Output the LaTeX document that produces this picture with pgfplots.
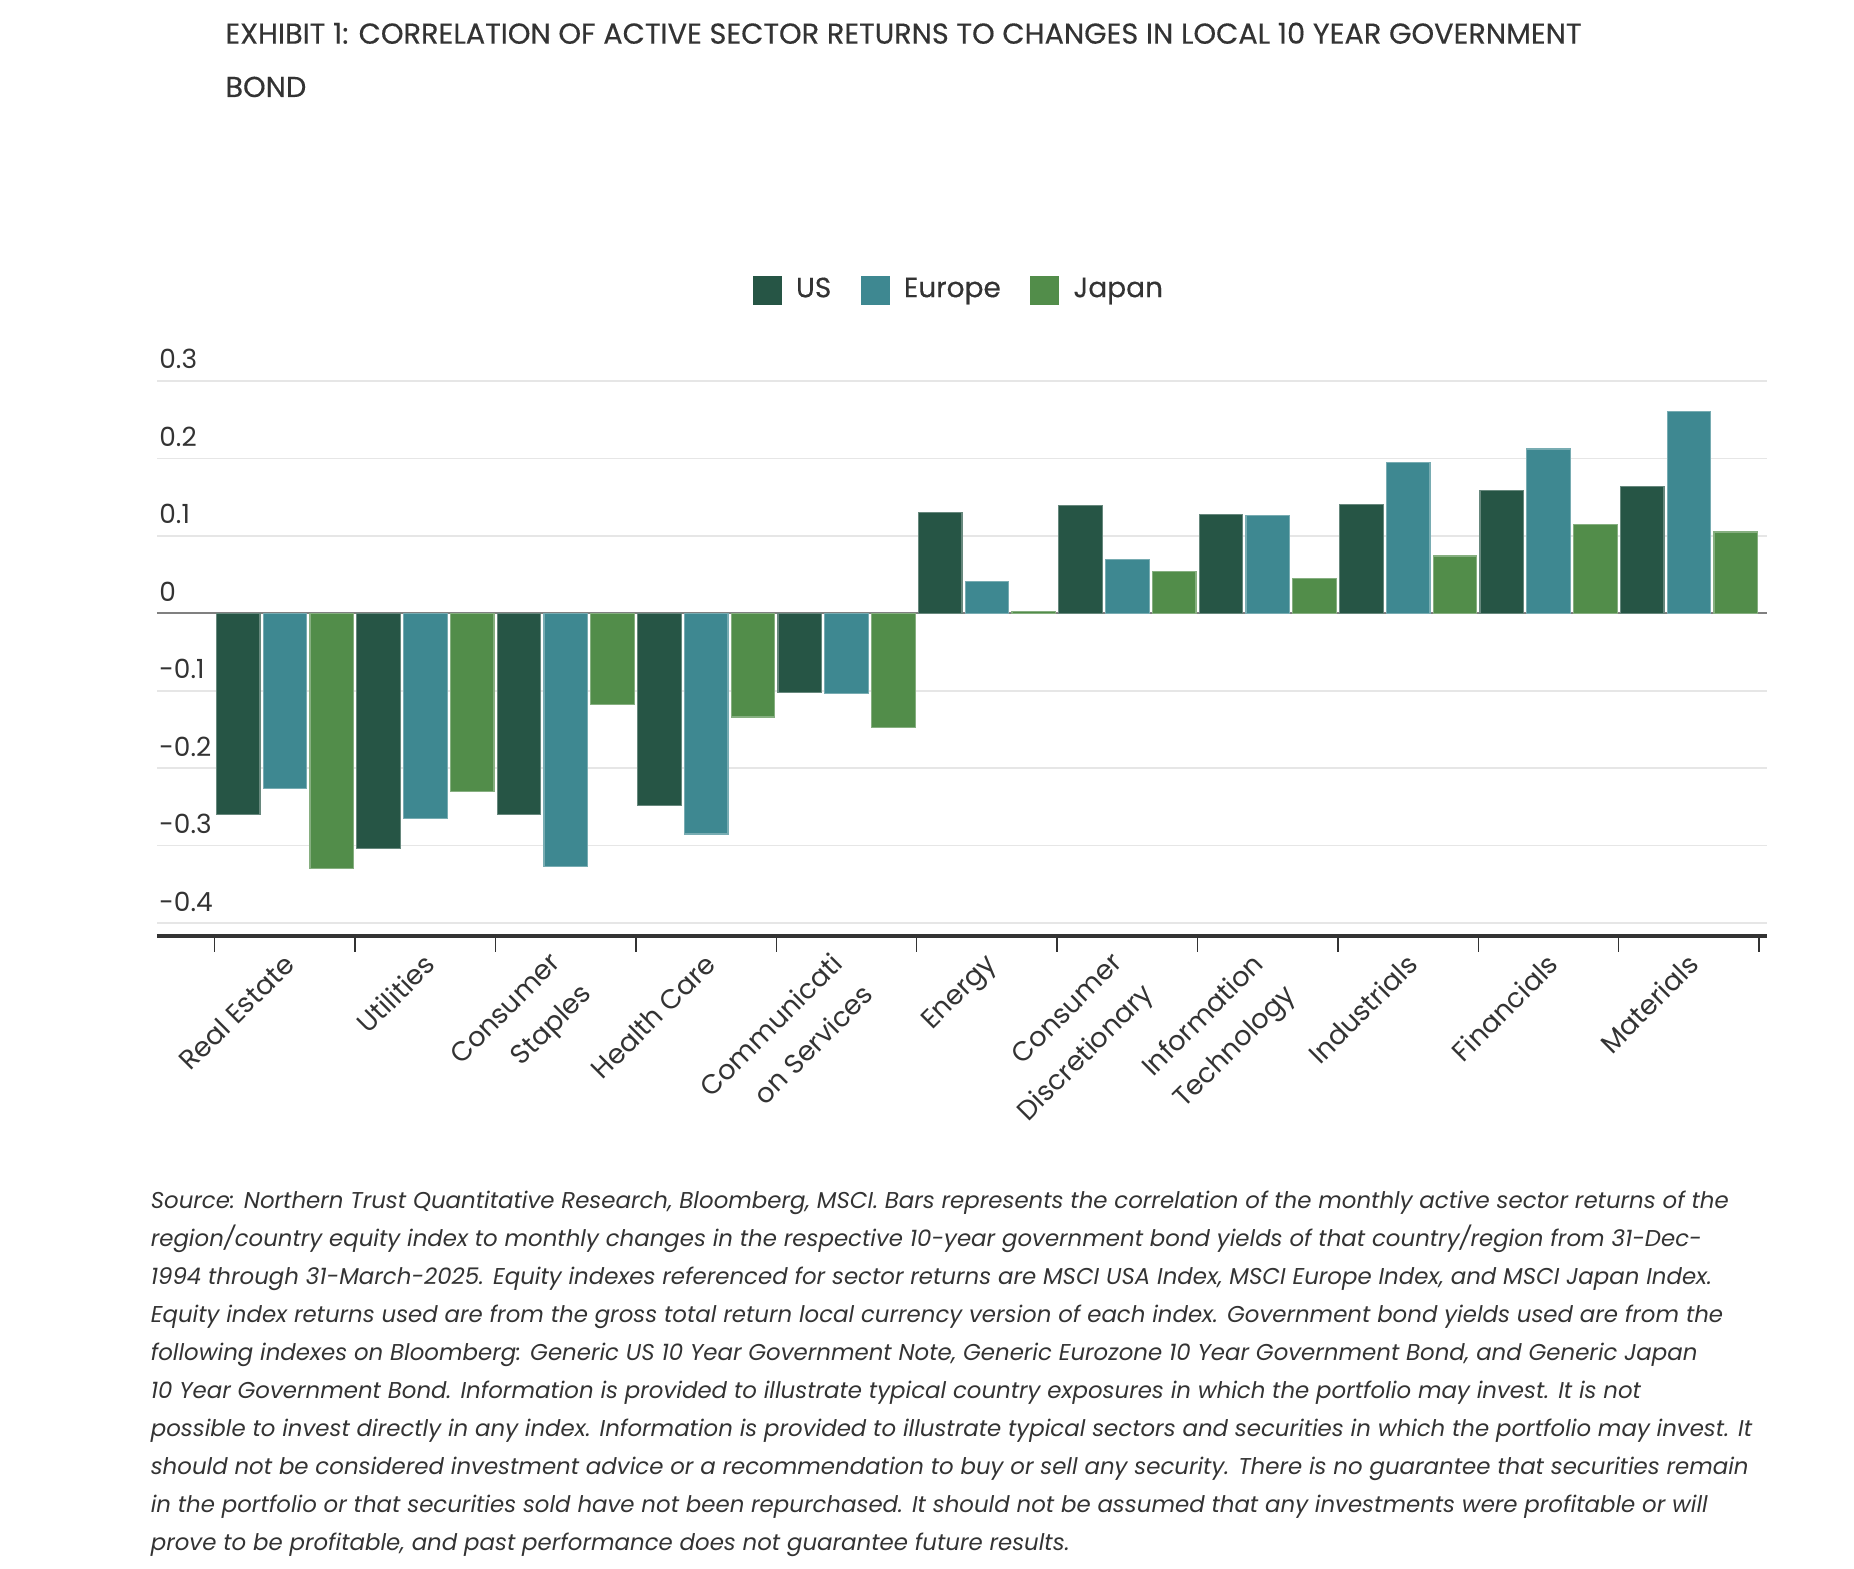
\documentclass[border=0pt]{standalone}
\usepackage{fontspec}
\setmainfont{Poppins}
\usepackage{pgfplots}
\pgfplotsset{compat=1.18}
\definecolor{cUS}{HTML}{265545}
\definecolor{cEU}{HTML}{3E8891}
\definecolor{cJP}{HTML}{528D4A}
\definecolor{txt}{HTML}{333333}
\definecolor{gridc}{HTML}{E6E6E6}
\begin{document}
\begin{tikzpicture}
\path[use as bounding box] (0,0) rectangle (463.5pt,392pt);
\node[anchor=base west, inner sep=0pt, text=txt, font=\fontsize{7.2}{8}\selectfont\addfontfeatures{FakeBold=0.35}] at (56.15pt,381.08pt) {EXHIBIT 1: CORRELATION OF ACTIVE SECTOR RETURNS TO CHANGES IN LOCAL 10 YEAR GOVERNMENT};
\node[anchor=base west, inner sep=0pt, text=txt, font=\fontsize{7.2}{8}\selectfont\addfontfeatures{FakeBold=0.35}] at (56.15pt,367.75pt) {BOND};
\begin{axis}[
  at={(39.25pt,158.03pt)}, anchor=south west,
  width=402.5pt, height=138.75pt, scale only axis,
  xmin=-0.911, xmax=10.556, ymin=-0.4165, ymax=0.3,
  ybar=0.8pt, bar width=10.9pt,
  axis x line*=bottom, axis y line*=left,
  y axis line style={draw=none},
  x axis line style={draw=txt, line width=0.85pt},
  ytick={-0.4,-0.3,-0.2,-0.1,0,0.1,0.2,0.3},
  yticklabels={-0.4,-0.3,-0.2,-0.1,0,0.1,0.2,0.3},
  ytick style={draw=none},
  ymajorgrids, grid style={draw=gridc, line width=0.4pt},
  yticklabel style={anchor=south west, inner sep=0pt, xshift=0.4pt, yshift=2.75pt, font=\fontsize{6.6}{8}\selectfont, text=txt},
  major tick length=0pt, minor tick length=4pt, tick align=outside,
  minor xtick={-0.5,0.5,...,10.5},
  minor x tick style={draw=txt, line width=0.35pt},
  xtick={0,1,3,5,8,9,10},
  xticklabels={Real Estate,Utilities,Health Care,Energy,Industrials,Financials,Materials},
  xticklabel style={xshift=-0.8pt, yshift=-3.8pt, rotate=45, anchor=north east, align=right, inner sep=0pt, font=\fontsize{6.8}{10.9}\selectfont, text=txt},
  extra x ticks={2,4,6,7},
  extra x tick labels={{Consumer\\Staples},{Communicati\\on Services},{Consumer\\Discretionary},{Information\\Technology}},
  extra x tick style={xticklabel style={xshift=-2.3pt, yshift=2.65pt}},
  extra y ticks={0}, extra y tick labels={},
  extra y tick style={grid style={draw=gray, line width=0.5pt}},
  legend style={at={(0.5,1.163)}, anchor=center, draw=none, fill=none, legend columns=3,
    font=\fontsize{7}{8}\selectfont\addfontfeatures{FakeBold=0.3}, text=txt,
    /tikz/every even column/.append style={column sep=5.4pt}},
  legend image code/.code={\fill[#1, draw=none] (0pt,-3.6pt) rectangle (7.25pt,3.6pt); \path[draw=none, fill=none] (8.75pt,0pt) circle (0pt);},
]
\addplot[fill=cUS, draw=cUS!70!white, line width=0.3pt] coordinates {(0,-0.260) (1,-0.304) (2,-0.260) (3,-0.248) (4,-0.102) (5,0.130) (6,0.139) (7,0.127) (8,0.140) (9,0.158) (10,0.164)};
\addplot[fill=cEU, draw=cEU!70!white, line width=0.3pt] coordinates {(0,-0.226) (1,-0.265) (2,-0.327) (3,-0.285) (4,-0.104) (5,0.041) (6,0.069) (7,0.126) (8,0.195) (9,0.212) (10,0.260)};
\addplot[fill=cJP, draw=cJP!70!white, line width=0.3pt] coordinates {(0,-0.330) (1,-0.230) (2,-0.118) (3,-0.134) (4,-0.147) (5,0.002) (6,0.054) (7,0.045) (8,0.074) (9,0.115) (10,0.105)};
\legend{US,Europe,Japan}
\end{axis}
\begin{scope}[every node/.style={anchor=base west, inner sep=0pt, text=txt, font=\fontsize{5.72}{8}\selectfont\itshape}]
\node at (37.5pt,90pt) {Source: Northern Trust Quantitative Research, Bloomberg, MSCI. Bars represents the correlation of the monthly active sector returns of the};
\node at (37.5pt,80.475pt) {region/country equity index to monthly changes in the respective 10-year government bond yields of that country/region from 31-Dec-};
\node at (37.5pt,70.95pt) {1994 through 31-March-2025. Equity indexes referenced for sector returns are MSCI USA Index, MSCI Europe Index, and MSCI Japan Index.};
\node at (37.5pt,61.425pt) {Equity index returns used are from the gross total return local currency version of each index. Government bond yields used are from the};
\node at (37.5pt,51.9pt) {following indexes on Bloomberg: Generic US 10 Year Government Note, Generic Eurozone 10 Year Government Bond, and Generic Japan};
\node at (37.5pt,42.375pt) {10 Year Government Bond. Information is provided to illustrate typical country exposures in which the portfolio may invest. It is not};
\node at (37.5pt,32.85pt) {possible to invest directly in any index. Information is provided to illustrate typical sectors and securities in which the portfolio may invest. It};
\node at (37.5pt,23.325pt) {should not be considered investment advice or a recommendation to buy or sell any security. There is no guarantee that securities remain};
\node at (37.5pt,13.8pt) {in the portfolio or that securities sold have not been repurchased. It should not be assumed that any investments were profitable or will};
\node at (37.5pt,4.275pt) {prove to be profitable, and past performance does not guarantee future results.};
\end{scope}
\end{tikzpicture}
\end{document}
